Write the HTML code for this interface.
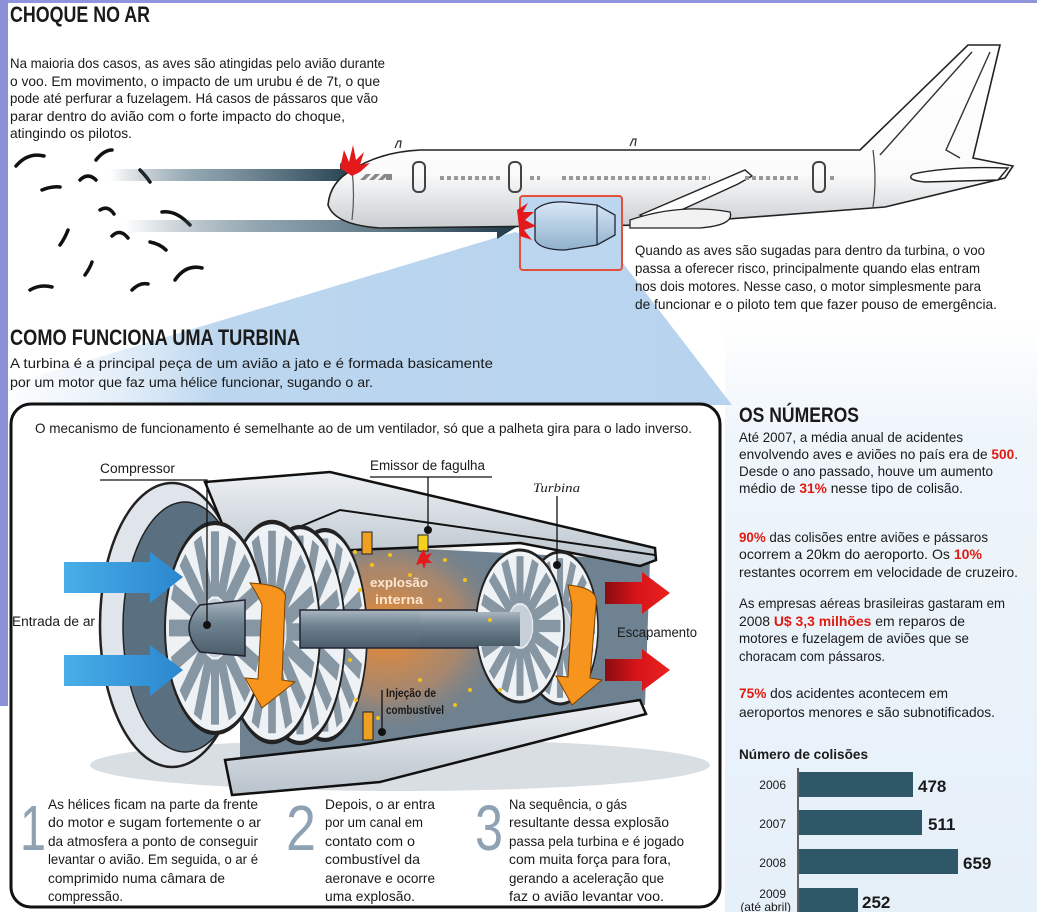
<!DOCTYPE html>
<html><head><meta charset="utf-8"><style>
html,body{margin:0;padding:0;background:#fff}
svg{display:block}
text{font-family:"Liberation Sans",sans-serif;fill:#1a1a1a}
.b{font-weight:bold}
.r{fill:#e01b12;font-weight:bold}
text.dg{fill:#8ea2b4}
</style></head><body>
<svg width="1037" height="912" viewBox="0 0 1037 912" xmlns="http://www.w3.org/2000/svg">
<defs>
<linearGradient id="arr" x1="0" x2="1"><stop offset="0" stop-color="#2a4a5c" stop-opacity="0"/><stop offset="0.35" stop-color="#5f7d8d" stop-opacity="0.7"/><stop offset="1" stop-color="#1f3a4b"/></linearGradient>
<linearGradient id="beam" x1="0" x2="1" y1="0" y2="0"><stop offset="0" stop-color="#fff" stop-opacity="0"/><stop offset="0.35" stop-color="#bcd6ef"/><stop offset="1" stop-color="#b7d3ee"/></linearGradient>
<linearGradient id="rcol" x1="0" x2="0" y1="0" y2="1"><stop offset="0" stop-color="#fff"/><stop offset="0.2" stop-color="#eef5fb"/><stop offset="1" stop-color="#e6f0f9"/></linearGradient>
<linearGradient id="fus" x1="0" x2="0" y1="0" y2="1"><stop offset="0" stop-color="#fff"/><stop offset="0.7" stop-color="#fbfbfb"/><stop offset="1" stop-color="#c9cdd1"/></linearGradient>
<linearGradient id="nac" x1="0" x2="0" y1="0" y2="1"><stop offset="0" stop-color="#d8e8f6"/><stop offset="1" stop-color="#8fb0cc"/></linearGradient>
<linearGradient id="shell" x1="0" x2="0" y1="0" y2="1"><stop offset="0" stop-color="#eef1f4"/><stop offset="1" stop-color="#b9c3cc"/></linearGradient>
<linearGradient id="shaft" x1="0" x2="0" y1="0" y2="1"><stop offset="0" stop-color="#a9b6c0"/><stop offset="0.4" stop-color="#6f8391"/><stop offset="1" stop-color="#4b5d6a"/></linearGradient>
<radialGradient id="fire" cx="0.45" cy="0.5" r="0.5"><stop offset="0" stop-color="#f08a2a"/><stop offset="0.6" stop-color="#c98a5a" stop-opacity="0.6"/><stop offset="1" stop-color="#6d808f" stop-opacity="0"/></radialGradient>
<linearGradient id="blue" x1="0" x2="1"><stop offset="0" stop-color="#48aee8"/><stop offset="1" stop-color="#2b86cf"/></linearGradient>
<linearGradient id="red" x1="0" x2="1"><stop offset="0" stop-color="#8a0c10"/><stop offset="0.5" stop-color="#d9141a"/><stop offset="1" stop-color="#e8231f"/></linearGradient>
<g id="disc">
<circle r="100" fill="#eef2f5" stroke="#222" stroke-width="4"/>
<g stroke="#8796a3" stroke-width="16">
<line x1="0" y1="-30" x2="0" y2="-92"/><line x1="0" y1="30" x2="0" y2="92"/>
<line x1="30" y1="0" x2="92" y2="0"/><line x1="-30" y1="0" x2="-92" y2="0"/>
<line x1="21" y1="-21" x2="65" y2="-65"/><line x1="-21" y1="21" x2="-65" y2="65"/>
<line x1="21" y1="21" x2="65" y2="65"/><line x1="-21" y1="-21" x2="-65" y2="-65"/>
<line x1="11" y1="-28" x2="35" y2="-85"/><line x1="-11" y1="28" x2="-35" y2="85"/>
<line x1="28" y1="11" x2="85" y2="35"/><line x1="-28" y1="-11" x2="-85" y2="-35"/>
<line x1="28" y1="-11" x2="85" y2="-35"/><line x1="-28" y1="11" x2="-85" y2="35"/>
<line x1="11" y1="28" x2="35" y2="85"/><line x1="-11" y1="-28" x2="-35" y2="-85"/>
</g>
<circle r="28" fill="#c7d0d8"/>
</g>
</defs>

<rect width="1037" height="912" fill="#fff"/>
<rect x="725" y="320" width="312" height="592" fill="url(#rcol)"/>
<polygon points="515,232 622,262 732,405 -60,405" fill="url(#beam)"/>
<rect x="0" y="0" width="1037" height="3" fill="#8f95dc"/>
<rect x="0" y="0" width="8" height="706" fill="#8a8fd6"/>

<text x="10" y="22" class="b" font-size="22" textLength="140" lengthAdjust="spacingAndGlyphs">CHOQUE NO AR</text>
<g font-size="14">
<text x="10" y="68" textLength="375" lengthAdjust="spacingAndGlyphs">Na maioria dos casos, as aves são atingidas pelo avião durante</text>
<text x="10" y="86" textLength="370" lengthAdjust="spacingAndGlyphs">o voo. Em movimento, o impacto de um urubu é de 7t, o que</text>
<text x="10" y="103" textLength="368" lengthAdjust="spacingAndGlyphs">pode até perfurar a fuzelagem. Há casos de pássaros que vão</text>
<text x="10" y="121" textLength="335" lengthAdjust="spacingAndGlyphs">parar dentro do avião com o forte impacto do choque,</text>
<text x="10" y="138" textLength="122" lengthAdjust="spacingAndGlyphs">atingindo os pilotos.</text>
</g>

<g fill="none" stroke="#111" stroke-width="3.5" stroke-linecap="round">
<path d="M16 166 Q28 152 44 156"/><path d="M96 160 Q104 150 112 150"/><path d="M80 180 Q88 172 96 180"/>
<path d="M42 190 Q52 186 60 187"/><path d="M100 210 Q108 205 114 214"/><path d="M162 212 Q176 210 190 225"/>
<path d="M60 245 Q65 238 68 230"/><path d="M112 236 Q120 228 128 238"/><path d="M150 242 Q160 244 166 250"/>
<path d="M85 275 Q90 268 92 262"/><path d="M175 280 Q186 264 202 268"/><path d="M30 290 Q40 284 52 287"/>
<path d="M132 290 Q140 282 148 284"/><path d="M140 170 Q146 176 150 182"/>
</g>

<path d="M110 169 H340 V163 L360 175 L340 187 V181 H110 Z" fill="url(#arr)"/>
<path d="M125 220 H497 V213 L518 226 L497 239 V232 H125 Z" fill="url(#arr)"/>

<path d="M860 150 L968 45 L1000 45 L973 158 L1013 166 L1005 178 L885 207 L650 225 L380 228 Q335 225 328 205 Q330 182 352 170 Q380 152 420 150 Z" fill="url(#fus)" stroke="#222" stroke-width="1.6"/>
<path d="M972 52 L880 155 M990 52 L946 150 L960 158" fill="none" stroke="#333" stroke-width="1.4"/>
<path d="M352 170 Q355 195 352 220" fill="none" stroke="#555" stroke-width="1.2"/>
<path d="M873 150 Q877 180 873 207" fill="none" stroke="#444" stroke-width="1.2"/>
<path d="M913 174 Q950 166 1008 168 L998 180 L925 182 Q905 180 913 174 Z" fill="#fff" stroke="#222" stroke-width="1.4"/>
<path d="M640 215 L745 170 L752 176 L738 184 L655 222 Z" fill="#fff" stroke="#222" stroke-width="1.4"/>
<path d="M630 220 Q680 203 730 212 Q735 225 700 228 L630 228 Z" fill="#f2f2f2" stroke="#222" stroke-width="1.3"/>
<path d="M395 148 l3 -7 l3 0 l-1 7 M630 146 l3 -7 l3 0 l-1 7" fill="none" stroke="#333" stroke-width="1.3"/>
<g fill="#888"><path d="M360 180 l6 -6 h5 l-6 6 z M369 180 l6 -6 h5 l-6 6 z M378 180 l6 -6 h5 l-6 6 z"/><rect x="386" y="174" width="6" height="6"/></g>
<g fill="none" stroke="#444" stroke-width="2"><rect x="413" y="162" width="12" height="30" rx="5"/><rect x="509" y="162" width="12" height="30" rx="5"/><rect x="813" y="162" width="12" height="30" rx="5"/></g>
<g stroke="#999" stroke-width="4" stroke-dasharray="4 3"><line x1="440" y1="178" x2="502" y2="178"/><line x1="530" y1="178" x2="540" y2="178"/><line x1="562" y1="178" x2="710" y2="178"/><line x1="745" y1="178" x2="800" y2="178"/><line x1="830" y1="178" x2="836" y2="178"/></g>
<rect x="520" y="196" width="102" height="74" rx="3" fill="#bcd6ef" stroke="#e2503c" stroke-width="2"/>
<path d="M535 210 Q545 201 565 202 L597 205 L615 215 L615 235 L597 245 L565 250 Q540 250 535 240 Z" fill="url(#nac)" stroke="#223" stroke-width="1.3"/>
<line x1="597" y1="205" x2="597" y2="245" stroke="#223" stroke-width="1.2"/>
<path d="M340 168 L344 150 L349 162 L353 145 L356 160 L364 152 L360 165 L370 163 L360 172 L352 176 Z" fill="#e3191c"/>
<path d="M517 210 L528 203 L523 212 L534 212 L525 220 L536 226 L524 230 L532 240 L520 236 Z" fill="#e3191c"/>

<g font-size="14">
<text x="635" y="255" textLength="350" lengthAdjust="spacingAndGlyphs">Quando as aves são sugadas para dentro da turbina, o voo</text>
<text x="635" y="273" textLength="345" lengthAdjust="spacingAndGlyphs">passa a oferecer risco, principalmente quando elas entram</text>
<text x="635" y="291" textLength="346" lengthAdjust="spacingAndGlyphs">nos dois motores. Nesse caso, o motor simplesmente para</text>
<text x="635" y="309" textLength="362" lengthAdjust="spacingAndGlyphs">de funcionar e o piloto tem que fazer pouso de emergência.</text>
</g>

<text x="10" y="345" class="b" font-size="22" textLength="290" lengthAdjust="spacingAndGlyphs">COMO FUNCIONA UMA TURBINA</text>
<text x="10" y="368" font-size="14" textLength="483" lengthAdjust="spacingAndGlyphs">A turbina é a principal peça de um avião a jato e é formada basicamente</text>
<text x="10" y="387" font-size="14" textLength="363" lengthAdjust="spacingAndGlyphs">por um motor que faz uma hélice funcionar, sugando o ar.</text>

<rect x="11" y="404" width="709" height="503" rx="20" fill="#fff" stroke="#111" stroke-width="3"/>
<text x="35" y="433" font-size="14" textLength="657" lengthAdjust="spacingAndGlyphs">O mecanismo de funcionamento é semelhante ao de um ventilador, só que a palheta gira para o lado inverso.</text>

<ellipse cx="400" cy="765" rx="310" ry="26" fill="#d9dee3"/>
<polygon points="240,540 650,560 645,705 240,765" fill="#6e8291"/>
<ellipse cx="400" cy="630" rx="130" ry="110" fill="url(#fire)"/>
<ellipse cx="172" cy="625" rx="72" ry="142" fill="#dfe5ea" stroke="#222" stroke-width="2.5"/>
<ellipse cx="185" cy="627" rx="62" ry="125" fill="#5a7080" stroke="#222" stroke-width="1.5"/>
<path d="M205 482 L330 472 L655 548 L656 560 L640 566 L520 543 L235 555 Z" fill="url(#shell)" stroke="#111" stroke-width="2.5"/>
<path d="M232 555 L340 510 L655 555" fill="none" stroke="#111" stroke-width="2"/>
<use href="#disc" transform="translate(325,635) scale(0.42,1.05)"/>
<use href="#disc" transform="translate(300,635) scale(0.45,1.08)"/>
<use href="#disc" transform="translate(272,632) scale(0.48,1.1)"/>
<use href="#disc" transform="translate(215,628) scale(0.5,1.05)"/>
<rect x="300" y="610" width="262" height="38" fill="url(#shaft)" stroke="#223" stroke-width="1.5"/>
<path d="M245 600 L200 605 Q178 628 200 652 L245 656 Z" fill="url(#shaft)" stroke="#223" stroke-width="1.5"/>
<use href="#disc" transform="translate(560,628) scale(0.38,0.76)"/>
<use href="#disc" transform="translate(520,626) scale(0.44,0.76)"/>
<rect x="420" y="612" width="100" height="34" fill="url(#shaft)"/>
<path d="M225 760 L360 745 L640 700 L646 714 L380 782 L232 795 Z" fill="url(#shell)" stroke="#111" stroke-width="2.5"/>
<g fill="#f4c21c">
<circle cx="355" cy="552" r="2"/><circle cx="372" cy="565" r="2"/><circle cx="390" cy="555" r="2"/><circle cx="410" cy="575" r="2"/><circle cx="445" cy="560" r="2"/><circle cx="465" cy="580" r="2"/><circle cx="360" cy="590" r="2"/><circle cx="440" cy="600" r="2"/><circle cx="470" cy="690" r="2"/><circle cx="356" cy="700" r="2"/><circle cx="378" cy="718" r="2"/><circle cx="420" cy="680" r="2"/><circle cx="455" cy="705" r="2"/><circle cx="490" cy="620" r="2"/><circle cx="500" cy="690" r="2"/><circle cx="350" cy="660" r="2"/>
</g>
<rect x="362" y="532" width="10" height="22" fill="#f0a020" stroke="#222"/>
<rect x="418" y="535" width="10" height="16" fill="#f4d21c" stroke="#222"/>
<path d="M420 555 l4 -6 l2 6 l6 -2 l-4 6 l4 4 l-6 0 l-2 6 l-2 -6 l-6 2 z" fill="#e3191c"/>
<rect x="363" y="712" width="10" height="28" fill="#f0a020" stroke="#222"/>
<path d="M250 583 Q290 585 285 600 L282 680 L295 682 L262 708 L245 678 L258 679 L262 605 Q258 595 250 583 Z" fill="#f7941d" stroke="#7a4100" stroke-width="1"/>
<path d="M568 585 Q600 588 596 605 L590 678 L602 680 L572 705 L556 676 L568 677 L572 605 Q570 595 568 585 Z" fill="#f7941d" stroke="#7a4100" stroke-width="1"/>
<path d="M64 562 H150 V552 L183 577 L150 603 V593 H64 Z" fill="url(#blue)"/>
<path d="M64 655 H150 V645 L183 670 L150 696 V686 H64 Z" fill="url(#blue)"/>
<path d="M605 582 H642 V572 L670 593 L642 614 V604 H605 Z" fill="url(#red)"/>
<path d="M605 659 H642 V649 L670 670 L642 691 V681 H605 Z" fill="url(#red)"/>

<g font-size="13.5">
<text x="100" y="473" textLength="75" lengthAdjust="spacingAndGlyphs">Compressor</text>
<text x="370" y="470" textLength="115" lengthAdjust="spacingAndGlyphs">Emissor de fagulha</text>
<text x="12" y="626" textLength="83" lengthAdjust="spacingAndGlyphs">Entrada de ar</text>
<text x="617" y="637" textLength="80" lengthAdjust="spacingAndGlyphs">Escapamento</text>
</g>
<text x="533" y="492" font-size="13" font-style="italic" style="font-family:'Liberation Serif',serif" textLength="47" lengthAdjust="spacingAndGlyphs">Turbina</text>
<g fill="none" stroke="#111" stroke-width="1.3">
<path d="M100 480 H207 V625"/><path d="M370 477 H492 M428 477 V530"/><path d="M557 496 V565"/><path d="M382 690 V732"/>
</g>
<circle cx="207" cy="625" r="4" fill="#111"/><circle cx="428" cy="530" r="4" fill="#111"/><circle cx="557" cy="565" r="4" fill="#111"/><circle cx="382" cy="732" r="4" fill="#111"/>
<text x="370" y="587" font-size="13" font-weight="bold" style="fill:#fde6cf" textLength="58" lengthAdjust="spacingAndGlyphs">explosão</text>
<text x="375" y="604" font-size="13" font-weight="bold" style="fill:#fde6cf" textLength="48" lengthAdjust="spacingAndGlyphs">interna</text>
<text x="386" y="697" font-size="12" font-weight="bold" textLength="50" lengthAdjust="spacingAndGlyphs">Injeção de</text>
<text x="386" y="714" font-size="12" font-weight="bold" textLength="58" lengthAdjust="spacingAndGlyphs">combustível</text>

<g font-size="64">
<text class="dg" x="20" y="850" textLength="26" lengthAdjust="spacingAndGlyphs">1</text>
<text class="dg" x="286" y="850" textLength="30" lengthAdjust="spacingAndGlyphs">2</text>
<text class="dg" x="475" y="850" textLength="28" lengthAdjust="spacingAndGlyphs">3</text>
</g>
<g font-size="14">
<text x="48" y="809" textLength="210" lengthAdjust="spacingAndGlyphs">As hélices ficam na parte da frente</text>
<text x="48" y="827" textLength="213" lengthAdjust="spacingAndGlyphs">do motor e sugam fortemente o ar</text>
<text x="48" y="846" textLength="210" lengthAdjust="spacingAndGlyphs">da atmosfera a ponto de conseguir</text>
<text x="48" y="864" textLength="210" lengthAdjust="spacingAndGlyphs">levantar o avião. Em seguida, o ar é</text>
<text x="48" y="883" textLength="177" lengthAdjust="spacingAndGlyphs">comprimido numa câmara de</text>
<text x="48" y="901" textLength="75" lengthAdjust="spacingAndGlyphs">compressão.</text>
<text x="325" y="809" textLength="110" lengthAdjust="spacingAndGlyphs">Depois, o ar entra</text>
<text x="325" y="827" textLength="98" lengthAdjust="spacingAndGlyphs">por um canal em</text>
<text x="325" y="846" textLength="90" lengthAdjust="spacingAndGlyphs">contato com o</text>
<text x="325" y="864" textLength="95" lengthAdjust="spacingAndGlyphs">combustível da</text>
<text x="325" y="883" textLength="110" lengthAdjust="spacingAndGlyphs">aeronave e ocorre</text>
<text x="325" y="901" textLength="90" lengthAdjust="spacingAndGlyphs">uma explosão.</text>
<text x="509" y="809" textLength="118" lengthAdjust="spacingAndGlyphs">Na sequência, o gás</text>
<text x="509" y="827" textLength="160" lengthAdjust="spacingAndGlyphs">resultante dessa explosão</text>
<text x="509" y="846" textLength="175" lengthAdjust="spacingAndGlyphs">passa pela turbina e é jogado</text>
<text x="509" y="864" textLength="162" lengthAdjust="spacingAndGlyphs">com muita força para fora,</text>
<text x="509" y="883" textLength="155" lengthAdjust="spacingAndGlyphs">gerando a aceleração que</text>
<text x="509" y="901" textLength="155" lengthAdjust="spacingAndGlyphs">faz o avião levantar voo.</text>
</g>

<text x="739" y="422" class="b" font-size="21" textLength="120" lengthAdjust="spacingAndGlyphs">OS NÚMEROS</text>
<g font-size="14">
<text x="739" y="442" textLength="224" lengthAdjust="spacingAndGlyphs">Até 2007, a média anual de acidentes</text>
<text x="739" y="459" textLength="279" lengthAdjust="spacingAndGlyphs">envolvendo aves e aviões no país era de <tspan class="r">500</tspan>.</text>
<text x="739" y="476" textLength="254" lengthAdjust="spacingAndGlyphs">Desde o ano passado, houve um aumento</text>
<text x="739" y="493" textLength="224" lengthAdjust="spacingAndGlyphs">médio de <tspan class="r">31%</tspan> nesse tipo de colisão.</text>
<text x="739" y="542" textLength="249" lengthAdjust="spacingAndGlyphs"><tspan class="r">90%</tspan> das colisões entre aviões e pássaros</text>
<text x="739" y="559" textLength="243" lengthAdjust="spacingAndGlyphs">ocorrem a 20km do aeroporto. Os <tspan class="r">10%</tspan></text>
<text x="739" y="577" textLength="279" lengthAdjust="spacingAndGlyphs">restantes ocorrem em velocidade de cruzeiro.</text>
<text x="739" y="608" textLength="266" lengthAdjust="spacingAndGlyphs">As empresas aéreas brasileiras gastaram em</text>
<text x="739" y="626" textLength="226" lengthAdjust="spacingAndGlyphs">2008 <tspan class="r">U$ 3,3 milhões</tspan> em reparos de</text>
<text x="739" y="643" textLength="230" lengthAdjust="spacingAndGlyphs">motores e fuzelagem de aviões que se</text>
<text x="739" y="661" textLength="146" lengthAdjust="spacingAndGlyphs">choracam com pássaros.</text>
<text x="739" y="698" textLength="209" lengthAdjust="spacingAndGlyphs"><tspan class="r">75%</tspan> dos acidentes acontecem em</text>
<text x="739" y="717" textLength="256" lengthAdjust="spacingAndGlyphs">aeroportos menores e são subnotificados.</text>
</g>
<text x="739" y="759" class="b" font-size="14" textLength="129" lengthAdjust="spacingAndGlyphs">Número de colisões</text>
<line x1="798" y1="768" x2="798" y2="912" stroke="#333" stroke-width="1.5"/>
<g fill="#2e5768">
<rect x="799" y="772" width="114" height="25"/>
<rect x="799" y="810" width="123" height="25"/>
<rect x="799" y="849" width="159" height="25"/>
<rect x="799" y="888" width="59" height="24"/>
</g>
<g font-size="17" font-weight="bold">
<text class="b" x="918" y="792">478</text><text class="b" x="928" y="830">511</text><text class="b" x="963" y="869">659</text><text class="b" x="862" y="908">252</text>
</g>
<g font-size="12" text-anchor="end">
<text x="786" y="789">2006</text><text x="786" y="828">2007</text><text x="786" y="867">2008</text><text x="786" y="898">2009</text><text x="791" y="911">(até abril)</text>
</g>
</svg>
</body></html>
